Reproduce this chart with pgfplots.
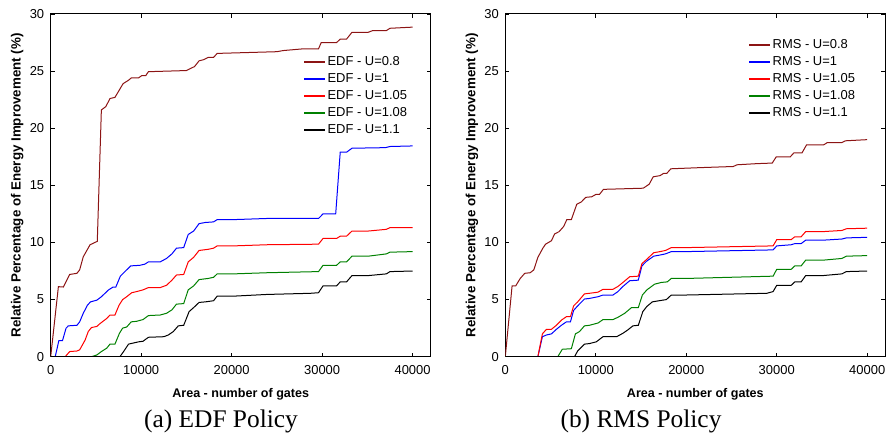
\documentclass[border=0pt]{standalone}
\usepackage{fontspec}
\setmainfont{Liberation Serif}
\newfontfamily\arial{Liberation Sans}
\usepackage{pgfplots}
\pgfplotsset{compat=1.18}

\definecolor{cDred}{RGB}{140,20,20}
\definecolor{cBlue}{RGB}{0,0,255}
\definecolor{cRed}{RGB}{255,0,0}
\definecolor{cGreen}{RGB}{0,128,0}

\pgfplotsset{
  legend image code/.code={\draw[#1, line width=1.5bp] (0bp,0bp) -- (21bp,0bp);},
  panel/.style={
    scale only axis,
    width=380bp, height=342.7bp,
    xmin=0, xmax=42000, ymin=0, ymax=30,
    xtick={0,10000,20000,30000,40000},
    ytick={0,5,10,15,20,25,30},
    scaled x ticks=false,
    /pgf/number format/1000 sep={},
    /pgf/number format/assume math mode=true,
    tick align=inside, major tick length=4bp,
    tick style={black, line width=0.8bp},
    axis line style={line width=1bp},
    ticklabel style={font=\arial\fontsize{13}{15}\selectfont},
    xticklabel style={yshift=-5bp},
    yticklabel style={xshift=-3bp},
    xlabel={Area - number of gates},
    ylabel={Relative Percentage of Energy Improvement (\%)},
    xlabel style={font=\arial\bfseries\fontsize{12.6}{14}\selectfont,
      at={(axis description cs:0.5,-0.109)}, anchor=center},
    ylabel style={font=\arial\bfseries\fontsize{13.4}{15}\selectfont,
      at={(axis description cs:-0.088,0.5)}, anchor=center},
    legend cell align=left,
    legend style={draw=none, fill=none, inner sep=0pt, row sep=0pt,
      font=\arial\fontsize{13}{15}\selectfont,
      nodes={inner xsep=1.5bp, inner ysep=2.5bp, text height=9.5bp, text depth=2.5bp}},
    every axis plot/.append style={line width=1bp},
  }
}

\begin{document}
\begin{tikzpicture}
\path[use as bounding box] (0,0) rectangle (886bp,443bp);

\begin{axis}[panel, at={(50.7bp,86.3bp)}, anchor=south west,
  legend style={at={(rel axis cs:0.665,0.886)}, anchor=north west}]
\addplot[cDred] coordinates {(0,0)(850,6.13)(1400,6.1)(2100,7.2)(2900,7.3)(3200,7.6)(3600,8.75)(4350,9.8)(5150,10.1)(5600,21.6)(6100,21.9)(6550,22.6)(7100,22.7)(8000,23.9)(8600,24.2)(8900,24.4)(9700,24.4)(10050,24.6)(10500,24.6)(10800,24.95)(15000,25.05)(15900,25.4)(16400,25.9)(16900,26.0)(17400,26.2)(18000,26.2)(18400,26.55)(25000,26.7)(25700,26.8)(27900,26.95)(29600,26.95)(29900,27.5)(31600,27.5)(32000,27.8)(32700,27.8)(33300,28.4)(35100,28.4)(35600,28.55)(37100,28.55)(37500,28.75)(40000,28.85)};
\addplot[cBlue] coordinates {(0,0)(500,0)(900,1.4)(1300,1.4)(1700,2.5)(1950,2.7)(2900,2.75)(3200,3.05)(3600,3.8)(4050,4.5)(4400,4.8)(5100,4.95)(5600,5.25)(6400,5.85)(6900,6.1)(7200,6.1)(7700,7.05)(8200,7.45)(8850,7.95)(9850,8.0)(10400,8.1)(10800,8.3)(12100,8.3)(12800,8.6)(13400,9.0)(13900,9.5)(14700,9.55)(15200,10.7)(15800,11.0)(16400,11.65)(17100,11.75)(18000,11.8)(18400,12.0)(20200,12.0)(23900,12.1)(29600,12.1)(30100,12.5)(31500,12.5)(32000,17.9)(32700,17.9)(33300,18.25)(37000,18.3)(37500,18.4)(40000,18.45)};
\addplot[cRed] coordinates {(0,0)(1600,0)(2100,0.45)(2900,0.5)(3200,0.6)(3800,1.45)(4150,2.2)(4500,2.55)(5100,2.65)(5450,2.9)(6200,3.35)(6550,3.65)(7100,3.65)(7550,4.5)(7950,5.0)(8400,5.25)(8950,5.6)(9500,5.7)(10200,5.85)(10800,6.05)(12100,6.05)(12800,6.25)(13400,6.7)(13900,7.15)(14700,7.2)(15200,8.3)(15800,8.7)(16400,9.3)(17400,9.4)(18000,9.5)(18400,9.7)(20200,9.7)(23900,9.8)(29600,9.85)(30100,10.35)(31600,10.35)(32000,10.55)(32700,10.55)(33300,11.0)(35100,11.0)(37100,11.15)(37500,11.3)(40000,11.3)};
\addplot[cGreen] coordinates {(0,0)(4500,0)(5100,0.15)(5600,0.45)(6200,0.75)(6550,1.1)(7100,1.1)(7600,2.05)(7950,2.5)(8400,2.6)(8900,3.05)(9500,3.1)(10200,3.25)(10800,3.6)(12100,3.65)(12800,3.8)(13400,4.1)(13900,4.6)(14700,4.65)(15200,5.85)(15800,6.2)(16400,6.75)(17400,6.85)(18000,6.95)(18400,7.25)(20200,7.25)(23900,7.35)(29600,7.45)(30100,8.0)(31600,8.0)(32000,8.3)(32700,8.3)(33300,8.8)(35100,8.8)(37100,9.0)(37500,9.15)(40000,9.2)};
\addplot[black] coordinates {(0,0)(7650,0)(8100,0.5)(8600,1.1)(9150,1.2)(9700,1.3)(10200,1.35)(10800,1.7)(12500,1.75)(13000,1.9)(13550,2.2)(14100,2.7)(14700,2.75)(15300,3.95)(15800,4.3)(16400,4.75)(17100,4.8)(18000,4.9)(18400,5.3)(20200,5.3)(23900,5.45)(28700,5.55)(29600,5.6)(30100,6.2)(31600,6.2)(32000,6.55)(32700,6.55)(33300,7.1)(35100,7.1)(37100,7.25)(37500,7.45)(40000,7.5)};
\legend{EDF - U=0.8, EDF - U=1, EDF - U=1.05, EDF - U=1.08, EDF - U=1.1}
\end{axis}

\begin{axis}[panel, at={(505.3bp,86.3bp)}, anchor=south west,
  legend style={at={(rel axis cs:0.64,0.93551)}, anchor=north west}]
\addplot[cDred] coordinates {(0,0)(750,6.2)(1150,6.2)(1650,6.85)(2150,7.3)(2750,7.35)(3150,7.6)(3600,8.7)(4150,9.5)(4450,9.85)(5100,10.15)(5450,10.75)(5950,10.95)(6450,11.4)(6800,12.0)(7300,12.0)(7900,13.35)(8400,13.55)(8900,13.95)(9550,14.0)(10000,14.2)(10400,14.2)(10850,14.65)(15250,14.75)(15900,15.1)(16350,15.75)(17100,15.85)(17500,16.05)(17850,16.05)(18300,16.45)(21500,16.55)(25200,16.65)(25600,16.8)(27800,16.9)(29500,16.95)(29950,17.5)(31500,17.5)(31900,17.85)(32800,17.85)(33300,18.55)(35200,18.55)(35600,18.75)(37200,18.75)(37600,18.9)(40000,19.0)};
\addplot[cBlue] coordinates {(0,0)(3600,0)(4100,1.75)(4550,1.9)(5100,2.0)(5650,2.4)(6200,2.75)(6750,3.05)(7200,3.05)(7550,4.05)(8000,4.45)(8750,5.05)(9300,5.1)(10250,5.25)(10800,5.4)(11900,5.4)(12450,5.7)(13000,6.15)(13750,6.65)(14700,6.7)(15100,7.95)(15600,8.35)(16400,8.8)(17100,8.9)(17700,9.0)(18350,9.2)(20000,9.2)(29600,9.35)(30000,9.7)(31600,9.8)(32000,9.9)(32700,9.9)(33200,10.2)(35100,10.2)(37200,10.3)(37700,10.4)(40000,10.45)};
\addplot[cRed] coordinates {(0,0)(3600,0)(4100,2.0)(4550,2.4)(5100,2.4)(5650,2.75)(6200,3.2)(6750,3.5)(7200,3.5)(7550,4.45)(8000,4.8)(8750,5.5)(9300,5.55)(10250,5.65)(10800,5.9)(11900,5.9)(12450,6.15)(13000,6.5)(13750,7.0)(14700,7.05)(15100,8.15)(15600,8.5)(16400,9.1)(17100,9.2)(17700,9.3)(18350,9.55)(20000,9.55)(29600,9.7)(30000,10.25)(31600,10.25)(32000,10.5)(32700,10.5)(33200,10.95)(35100,10.95)(37200,11.05)(37700,11.2)(40000,11.25)};
\addplot[cGreen] coordinates {(0,0)(5800,0)(6300,0.65)(7300,0.7)(7750,2.0)(8200,2.2)(8750,2.7)(9300,2.75)(10250,2.95)(10800,3.25)(11900,3.25)(12450,3.45)(13200,3.8)(13950,4.3)(14700,4.3)(15150,5.4)(15650,5.85)(16500,6.35)(17250,6.5)(17900,6.55)(18350,6.85)(20000,6.85)(29600,7.05)(30000,7.65)(31600,7.65)(32000,7.95)(32700,7.95)(33200,8.45)(35100,8.45)(37200,8.6)(37700,8.8)(40000,8.85)};
\addplot[black] coordinates {(0,0)(7650,0)(8000,0.5)(8750,1.1)(9300,1.15)(10050,1.3)(10800,1.75)(12300,1.75)(13000,2.05)(13550,2.35)(14100,2.7)(14700,2.75)(15200,3.95)(15650,4.4)(16250,4.8)(17000,4.9)(17800,5.0)(18350,5.4)(20000,5.4)(28900,5.55)(29600,5.7)(30000,6.25)(31600,6.25)(32000,6.55)(32700,6.55)(33200,7.1)(35100,7.1)(37200,7.25)(37700,7.45)(40000,7.5)};
\legend{RMS - U=0.8, RMS - U=1, RMS - U=1.05, RMS - U=1.08, RMS - U=1.1}
\end{axis}

\node[font=\fontsize{25.5}{30}\selectfont] at (221bp,22bp) {(a) EDF Policy};
\node[font=\fontsize{25.5}{30}\selectfont] at (641bp,22bp) {(b) RMS Policy};
\end{tikzpicture}
\end{document}
